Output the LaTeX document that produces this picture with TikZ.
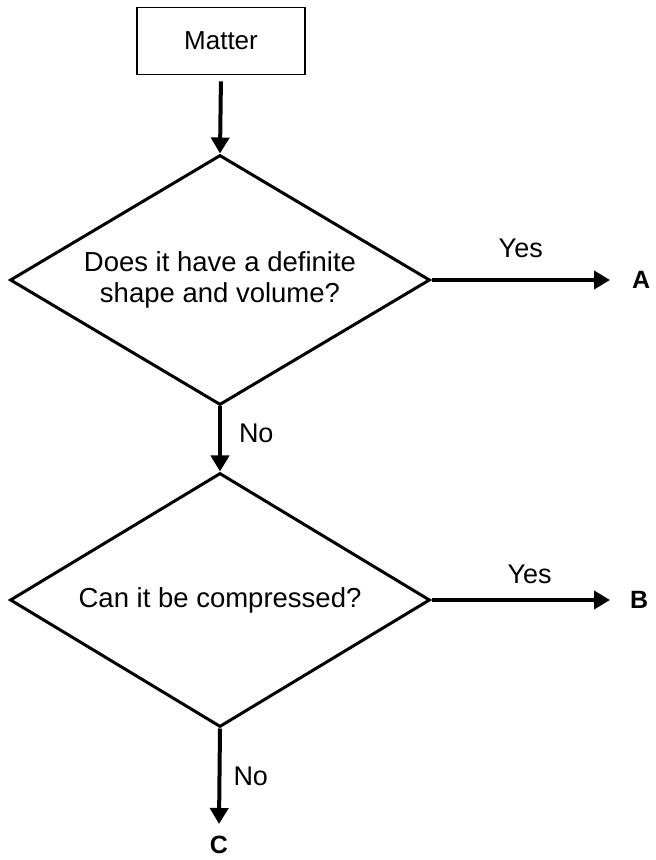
\documentclass[tikz,border=0pt]{standalone}
\usepackage{fontspec}
\setmainfont{Liberation Sans}
\usetikzlibrary{shapes.geometric, arrows.meta}

\tikzset{
    flowbox/.style={draw, line width=1.8pt, minimum width=168pt, minimum height=67pt, inner sep=0pt,
        font=\fontsize{26}{30}\selectfont},
    decision/.style={draw, diamond, shape aspect=1.68, line width=3pt, minimum width=420pt, minimum height=250pt,
        inner sep=0pt, align=center, font=\fontsize{27.5}{31}\selectfont},
    flowarrow/.style={line width=4pt, -{Triangle[length=16pt, width=18pt]}},
    outcome/.style={font=\fontsize{25}{28}\selectfont\bfseries, inner sep=0pt},
    branch/.style={font=\fontsize{27}{30}\selectfont, inner sep=0pt}
}

\begin{document}
\begin{tikzpicture}[x=1pt, y=1pt]
        \useasboundingbox (0,0) rectangle (656,860);
        % Start box
        \node[flowbox] (matter) at (221,819) {Matter};
        % Decisions
        \node[decision] (definite) at (220,580) {Does it have a definite\\shape and volume?};
        \node[decision, minimum height=254pt] (compress) at (220,260) {Can it be compressed?};
        % Outcomes
        \node[outcome, anchor=west, outer sep=22pt] (resA) at (610,580) {A};
        \node[outcome, anchor=west, outer sep=20pt] (resB) at (610,260) {B};
        \node[outcome, anchor=north, outer sep=12pt] (resC) at (219,36) {C};
        % Connectors
        \draw[flowarrow, shorten <=6pt] (matter.south) -- (definite.north);
        \draw[flowarrow] (definite.south) -- node[branch, right=17pt, pos=0.42] (no1) {No} (compress.north);
        \draw[flowarrow] (definite.east) -- node[branch, above=20pt, pos=0.5] (yes1) {Yes} (resA.west);
        \draw[flowarrow] (compress.east) -- node[branch, above=14pt, pos=0.55] (yes2) {Yes} (resB.west);
        \draw[flowarrow] (compress.south) -- node[branch, right=12pt, pos=0.5] (no2) {No} (resC.north);
\end{tikzpicture}
\end{document}
